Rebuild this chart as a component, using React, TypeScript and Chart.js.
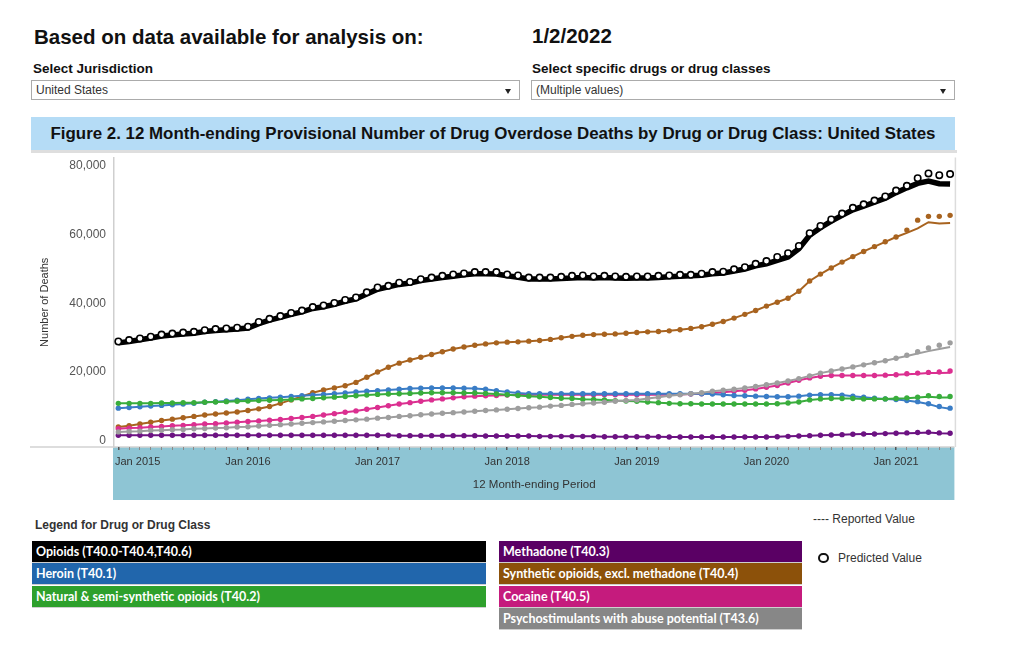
import React, { useEffect, useRef } from 'react';
import { Chart, registerables } from 'chart.js';

Chart.register(...registerables);

const FONT = '"Liberation Sans", Arial, Helvetica, sans-serif';
const LEGEND_FONT = 'Lato, "Liberation Sans", Arial, sans-serif';

// ---- categories (12 month-ending periods, Jan 2015 .. Jun 2021) ----
const MONTH_NAMES = ['Jan', 'Feb', 'Mar', 'Apr', 'May', 'Jun', 'Jul', 'Aug', 'Sep', 'Oct', 'Nov', 'Dec'];
const periods: string[] = [];
for (let y = 2015; y <= 2021; y++) {
  for (let m = 0; m < 12; m++) {
    if (y === 2021 && m > 5) break;
    periods.push(`${MONTH_NAMES[m]} ${y}`);
  }
}
const yearTickLabels = ['Jan 2015', 'Jan 2016', 'Jan 2017', 'Jan 2018', 'Jan 2019', 'Jan 2020', 'Jan 2021'];
const yearTickIndex = [0, 12, 24, 36, 48, 60, 72];
const yTicks = [0, 20000, 40000, 60000, 80000];
const TAIL_START = 73;

// ---- series (reported values) ----
const opioidsReported = [
  28500, 28900, 29400, 29900, 30500, 30800, 31100, 31300, 31800, 32100, 32300, 32500,
  32800, 34100, 35100, 35900, 36800, 37500, 38500, 39000, 39700, 40600, 41300, 42700,
  44100, 44800, 45500, 45900, 46600, 47100, 47500, 47900, 48300, 48600, 48600, 48500,
  48000, 47600, 47100, 47100, 47100, 47200, 47400, 47500, 47400, 47500, 47400, 47300,
  47400, 47400, 47500, 47700, 47900, 48000, 48200, 48600, 48800, 49400, 50000, 50900,
  51500, 52500, 53500, 55900, 59800, 62000, 63900, 65600, 67200, 68300, 69400, 70600,
  72200, 73600, 74900, 75600, 74800, 74700,
];
const opioidsPredicted = [
  28900, 29300, 29800, 30300, 30900, 31200, 31500, 31700, 32200, 32500, 32700, 32900,
  33200, 34600, 35500, 36300, 37200, 37900, 38900, 39400, 40100, 41000, 41700, 43200,
  44600, 45100, 46000, 46200, 47000, 47500, 48000, 48400, 48700, 49100, 49100, 49100,
  48400, 48100, 47500, 47500, 47500, 47700, 48000, 48100, 47800, 48000, 47800, 47700,
  47800, 47800, 48000, 48100, 48300, 48300, 48600, 49100, 49200, 49900, 50500, 51500,
  52300, 53500, 54600, 56700, 60400, 62500, 64400, 66100, 67800, 68800, 69900, 71100,
  72800, 74200, 76400, 77800, 77300, 77600,
];
const heroin = [
  9500, 9700, 9900, 10100, 10300, 10500, 10700, 10900, 11200, 11400, 11600, 11800,
  12100, 12300, 12500, 12700, 12900, 13100, 13300, 13500, 13700, 13900, 14200, 14400,
  14600, 14800, 15000, 15200, 15300, 15400, 15400, 15400, 15300, 15200, 15000, 14600,
  14200, 13900, 13700, 13700, 13700, 13700, 13700, 13700, 13700, 13700, 13700, 13700,
  13700, 13700, 13700, 13700, 13700, 13700, 13700, 13600, 13400, 13200, 13100, 13000,
  12900, 12800, 12800, 13000, 13300, 13400, 13400, 13300, 13000, 12700, 12400, 12200,
  12000, 11700, 11300, 10700, 9800, 9300,
];
const naturalSemiSynthetic = [
  10900, 10900, 10900, 10900, 11000, 11000, 11100, 11100, 11200, 11300, 11400, 11500,
  11600, 11700, 11800, 11900, 12000, 12200, 12300, 12500, 12700, 12900, 13100, 13300,
  13500, 13600, 13700, 13800, 13900, 14000, 14000, 14000, 13900, 13900, 13800, 13600,
  13400, 13200, 13000, 12800, 12600, 12400, 12300, 12100, 12000, 11900, 11700, 11600,
  11500, 11300, 11100, 10900, 10800, 10800, 10700, 10700, 10700, 10700, 10700, 10700,
  10700, 10800, 11000, 11300, 11900, 12200, 12300, 12300, 12300, 12200, 12200, 12200,
  12300, 12400, 12600, 12800, 12600, 12600,
];
const methadone = [
  1600, 1600, 1600, 1600, 1600, 1600, 1600, 1600, 1600, 1600, 1600, 1600,
  1600, 1600, 1600, 1600, 1600, 1600, 1600, 1600, 1600, 1600, 1600, 1600,
  1600, 1600, 1500, 1500, 1500, 1500, 1500, 1500, 1500, 1500, 1400, 1400,
  1400, 1400, 1400, 1300, 1300, 1300, 1300, 1300, 1300, 1200, 1200, 1200,
  1200, 1200, 1200, 1100, 1100, 1100, 1100, 1100, 1100, 1100, 1100, 1100,
  1100, 1200, 1300, 1400, 1500, 1600, 1700, 1800, 1900, 2000, 2000, 2100,
  2200, 2200, 2300, 2400, 2200, 2100,
];
const syntheticOpioids = [
  4000, 4400, 4900, 5400, 5900, 6300, 6700, 7100, 7500, 7800, 8100, 8400,
  8800, 9300, 10000, 10900, 11900, 12900, 14000, 14800, 15400, 16000, 17000, 18500,
  20000, 21400, 22600, 23500, 24300, 25100, 25900, 26700, 27300, 27800, 28200, 28500,
  28700, 28800, 29000, 29200, 29500, 30000, 30400, 30700, 30900, 31000, 31100, 31300,
  31500, 31700, 31800, 32000, 32300, 32700, 33200, 33900, 34700, 35700, 36800, 37900,
  39200, 40300, 41500, 43500, 46500, 48500, 50300, 52000, 53600, 55100, 56500, 57900,
  59300, 60500, 61800, 63600, 63200, 63400,
];
const cocaine = [
  3500, 3700, 3800, 4000, 4200, 4400, 4500, 4700, 4900, 5000, 5200, 5400,
  5600, 5800, 6000, 6200, 6500, 6800, 7100, 7500, 7900, 8300, 8700, 9200,
  9700, 10200, 10700, 11100, 11500, 11900, 12200, 12500, 12800, 13000, 13100, 13200,
  13300, 13300, 13400, 13400, 13400, 13400, 13400, 13400, 13400, 13400, 13400, 13400,
  13400, 13400, 13400, 13400, 13500, 13600, 13700, 13900, 14100, 14400, 14700, 15100,
  15600, 16100, 16800, 17600, 18300, 18800, 19000, 19000, 19000, 19000, 19000, 19100,
  19200, 19400, 19500, 19700, 19700, 19800,
];
const psychostimulants = [
  2600, 2700, 2800, 3000, 3100, 3200, 3300, 3500, 3600, 3700, 3800, 4000,
  4100, 4300, 4500, 4700, 4900, 5100, 5300, 5500, 5700, 5900, 6100, 6300,
  6600, 6800, 7100, 7300, 7600, 7800, 8000, 8200, 8400, 8600, 8800, 9000,
  9200, 9400, 9600, 9800, 10100, 10300, 10600, 10800, 11000, 11200, 11500, 11700,
  11900, 12300, 12700, 13100, 13400, 13700, 14000, 14400, 14700, 15000, 15400, 15800,
  16300, 16800, 17400, 18100, 18900, 19700, 20300, 20900, 21500, 22100, 22700, 23300,
  24000, 24700, 25400, 26100, 26700, 27300,
];

// ---- predicted values for the latest months ----
const heroinPredictedTail = [11700, 11400, 10800, 10000, 9500];
const naturalPredictedTail = [12500, 12700, 13100, 12900, 12900];
const methadonePredictedTail = [2300, 2400, 2500, 2300, 2200];
const syntheticPredictedTail = [61300, 64200, 65300, 65300, 65600];
const cocainePredictedTail = [19500, 19700, 19900, 20000, 20300];
const psychostimPredictedTail = [24900, 25900, 27000, 27800, 28500];

const legendLeft = ['Opioids (T40.0-T40.4,T40.6)', 'Heroin (T40.1)', 'Natural & semi-synthetic opioids (T40.2)'];
const legendLeftColors = ['#000000', '#2166ac', '#2ea02c'];
const legendRight = ['Methadone (T40.3)', 'Synthetic opioids, excl. methadone (T40.4)', 'Cocaine (T40.5)', 'Psychostimulants with abuse potential (T43.6)'];
const legendRightColors = ['#5a0064', '#8c510a', '#c51b7d', '#878787'];

const toXY = (arr: number[], start = 0) => arr.map((v, i) => ({ x: i + start, y: v }));

const colored = [
  { data: psychostimulants, tail: psychostimPredictedTail, color: '#9e9e9e' },
  { data: methadone, tail: methadonePredictedTail, color: '#6c1282' },
  { data: naturalSemiSynthetic, tail: naturalPredictedTail, color: '#39ad3c' },
  { data: heroin, tail: heroinPredictedTail, color: '#3a7dc6' },
  { data: cocaine, tail: cocainePredictedTail, color: '#db2f90' },
  { data: syntheticOpioids, tail: syntheticPredictedTail, color: '#a8631f' },
];

const bandPlugin = {
  id: 'axisBand',
  beforeDraw(chart: any) {
    const { ctx, chartArea: a } = chart;
    ctx.save();
    ctx.fillStyle = '#8ec5d4';
    ctx.fillRect(a.left - 1, a.bottom, a.right - a.left + 1, 53);
    ctx.strokeStyle = '#d2d2d2';
    ctx.lineWidth = 1.5;
    ctx.beginPath();
    ctx.moveTo(0, a.bottom);
    ctx.lineTo(a.right, a.bottom);
    ctx.stroke();
    ctx.strokeStyle = '#dcdcdc';
    ctx.lineWidth = 1.5;
    ctx.beginPath();
    ctx.moveTo(a.right + 1, a.top);
    ctx.lineTo(a.right + 1, a.bottom);
    ctx.stroke();
    ctx.restore();
  },
  afterDraw(chart: any) {
    const { ctx, chartArea: a } = chart;
    const xs = chart.scales.x;
    ctx.save();
    ctx.fillStyle = '#333';
    ctx.font = `11px ${FONT}`;
    ctx.textBaseline = 'middle';
    yearTickLabels.forEach((lab, k) => {
      const px = xs.getPixelForValue(yearTickIndex[k]);
      if (k === 0) {
        ctx.textAlign = 'left';
        ctx.fillText(lab, a.left + 1, a.bottom + 15);
      } else {
        ctx.textAlign = 'center';
        ctx.fillText(lab, px, a.bottom + 15);
      }
    });
    ctx.textAlign = 'center';
    ctx.font = `11.5px ${FONT}`;
    ctx.fillText('12 Month-ending Period', (a.left + a.right) / 2, a.bottom + 38);
    ctx.restore();
  },
};

function Txt(props: { x: number; base: number; size: number; bold?: boolean; color?: string; children: React.ReactNode }) {
  const { x, base, size, bold, color, children } = props;
  return (
    <div
      style={{
        position: 'absolute',
        left: x,
        top: base - 0.8465 * size,
        fontSize: size,
        lineHeight: `${size}px`,
        fontWeight: bold ? 700 : 400,
        color: color || '#111',
        whiteSpace: 'nowrap',
        fontFamily: FONT,
      }}
    >
      {children}
    </div>
  );
}

function Dropdown(props: { x: number; w: number; text: string }) {
  return (
    <div
      style={{
        position: 'absolute',
        left: props.x,
        top: 80,
        width: props.w,
        height: 20,
        border: '1px solid #ababab',
        boxSizing: 'border-box',
        background: '#fff',
      }}
    >
      <div style={{ position: 'absolute', left: 4, top: 3, fontSize: 12, lineHeight: '13px', color: '#333', fontFamily: FONT }}>
        {props.text}
      </div>
      <div
        style={{
          position: 'absolute',
          right: 8,
          top: 8,
          width: 0,
          height: 0,
          borderLeft: '3.5px solid transparent',
          borderRight: '3.5px solid transparent',
          borderTop: '5px solid #222',
        }}
      />
    </div>
  );
}

function LegendRow(props: { x: number; y: number; w: number; color: string; text: string }) {
  return (
    <div
      style={{
        position: 'absolute',
        left: props.x,
        top: props.y,
        width: props.w,
        height: 22,
        background: props.color,
        boxSizing: 'border-box',
        borderBottom: '1px solid #cfcfcf',
        color: '#fff',
        fontFamily: LEGEND_FONT,
        fontWeight: 700,
        fontSize: 12.5,
        lineHeight: '21px',
        paddingLeft: 4,
        whiteSpace: 'nowrap',
      }}
    >
      {props.text}
    </div>
  );
}

export default function App() {
  const ref = useRef<HTMLCanvasElement>(null);

  useEffect(() => {
    const datasets: any[] = [];
    datasets.push({
      label: 'Opioids predicted',
      data: toXY(opioidsPredicted),
      showLine: false,
      pointRadius: 3.2,
      pointBorderWidth: 1.6,
      pointBorderColor: '#000',
      pointBackgroundColor: '#fff',
    });
    datasets.push({
      label: 'Opioids reported',
      data: toXY(opioidsReported),
      borderColor: '#000',
      borderWidth: 5.5,
      pointRadius: 0,
      tension: 0,
    });
    colored.forEach((s) => {
      datasets.push({
        data: toXY(s.tail, TAIL_START),
        showLine: false,
        pointRadius: 2.7,
        pointBorderWidth: 0,
        pointBackgroundColor: s.color,
      });
    });
    colored.forEach((s) => {
      datasets.push({
        data: toXY(s.data),
        borderColor: s.color,
        borderWidth: 2,
        tension: 0,
        pointRadius: (c: any) => (c.dataIndex >= TAIL_START ? 0 : 2.7),
        pointBorderWidth: 0,
        pointBackgroundColor: s.color,
      });
    });

    const chart = new Chart(ref.current as HTMLCanvasElement, {
      type: 'line',
      data: { datasets },
      plugins: [bandPlugin],
      options: {
        responsive: false,
        animation: false,
        layout: { padding: { top: 1, right: 5, left: 0, bottom: 0 } },
        plugins: { legend: { display: false }, tooltip: { enabled: false } },
        scales: {
          x: {
            type: 'linear',
            min: -0.4,
            max: periods.length - 0.6,
            afterBuildTicks: (s: any) => {
              s.ticks = periods.map((_, i) => ({ value: i }));
            },
            afterFit: (s: any) => {
              s.height = 54;
              s.paddingLeft = 0;
              s.paddingRight = 0;
            },
            ticks: { autoSkip: false, maxRotation: 0, callback: () => '', font: { size: 1 } },
            grid: {
              drawOnChartArea: false,
              drawTicks: true,
              tickLength: 3,
              color: (c: any) => (c.tick && c.tick.value % 12 === 0 ? '#555' : '#8a8a8a'),
              lineWidth: (c: any) => (c.tick && c.tick.value % 12 === 0 ? 1.5 : 1),
            },
            border: { display: false },
          },
          y: {
            min: -1800,
            max: 82400,
            afterBuildTicks: (s: any) => {
              s.ticks = yTicks.map((v) => ({ value: v }));
            },
            afterFit: (s: any) => {
              s.width = 84;
              s.paddingTop = 0;
              s.paddingBottom = 0;
            },
            ticks: {
              callback: (v: any) => Number(v).toLocaleString('en-US'),
              font: { family: FONT, size: 12 },
              color: '#555',
              padding: 8,
            },
            grid: { display: false, drawTicks: false },
            border: { display: true, color: '#cfcfcf', width: 1.5 },
            title: {
              display: true,
              text: 'Number of Deaths',
              font: { family: FONT, size: 11 },
              color: '#333',
              padding: { top: 8, bottom: 0 },
            },
          },
        },
      } as any,
    });
    return () => chart.destroy();
  }, []);

  return (
    <div style={{ position: 'absolute', left: 0, top: 0, width: 1024, height: 647, background: '#fff', overflow: 'hidden', fontFamily: FONT }}>
      <Txt x={34} base={44} size={20.5} bold>Based on data available for analysis on:</Txt>
      <Txt x={532} base={43} size={20.5} bold>1/2/2022</Txt>
      <Txt x={33} base={73} size={13.5} bold>Select Jurisdiction</Txt>
      <Txt x={532} base={73} size={13.5} bold>Select specific drugs or drug classes</Txt>
      <Dropdown x={31} w={489} text="United States" />
      <Dropdown x={531} w={424} text="(Multiple values)" />

      <div
        style={{
          position: 'absolute',
          left: 31,
          top: 117,
          width: 924,
          height: 33,
          background: '#b5dcf6',
          textAlign: 'center',
          fontWeight: 700,
          fontSize: 16.9,
          lineHeight: '33px',
          color: '#111',
          whiteSpace: 'nowrap',
        }}
      >
        Figure 2. 12 Month-ending Provisional Number of Drug Overdose Deaths by Drug or Drug Class: United States
      </div>
      <div style={{ position: 'absolute', left: 31, top: 150, width: 926, height: 3, background: '#dedede' }} />

      <canvas ref={ref} width={930} height={349} style={{ position: 'absolute', left: 30, top: 152, width: 930, height: 349 }} />

      <Txt x={35} base={529} size={12} bold color="#333">Legend for Drug or Drug Class</Txt>
      {legendLeft.map((t, i) => (
        <LegendRow key={t} x={32} y={541 + i * 22.4} w={454} color={legendLeftColors[i]} text={t} />
      ))}
      {legendRight.map((t, i) => (
        <LegendRow key={t} x={499} y={541 + i * 22.4} w={303} color={legendRightColors[i]} text={t} />
      ))}
      <Txt x={813} base={523} size={12} color="#333">---- Reported Value</Txt>
      <div
        style={{
          position: 'absolute',
          left: 818,
          top: 552.5,
          width: 10.5,
          height: 10.5,
          borderRadius: '50%',
          border: '2.5px solid #111',
          boxSizing: 'border-box',
        }}
      />
      <Txt x={838} base={562} size={12} color="#333">Predicted Value</Txt>
    </div>
  );
}
